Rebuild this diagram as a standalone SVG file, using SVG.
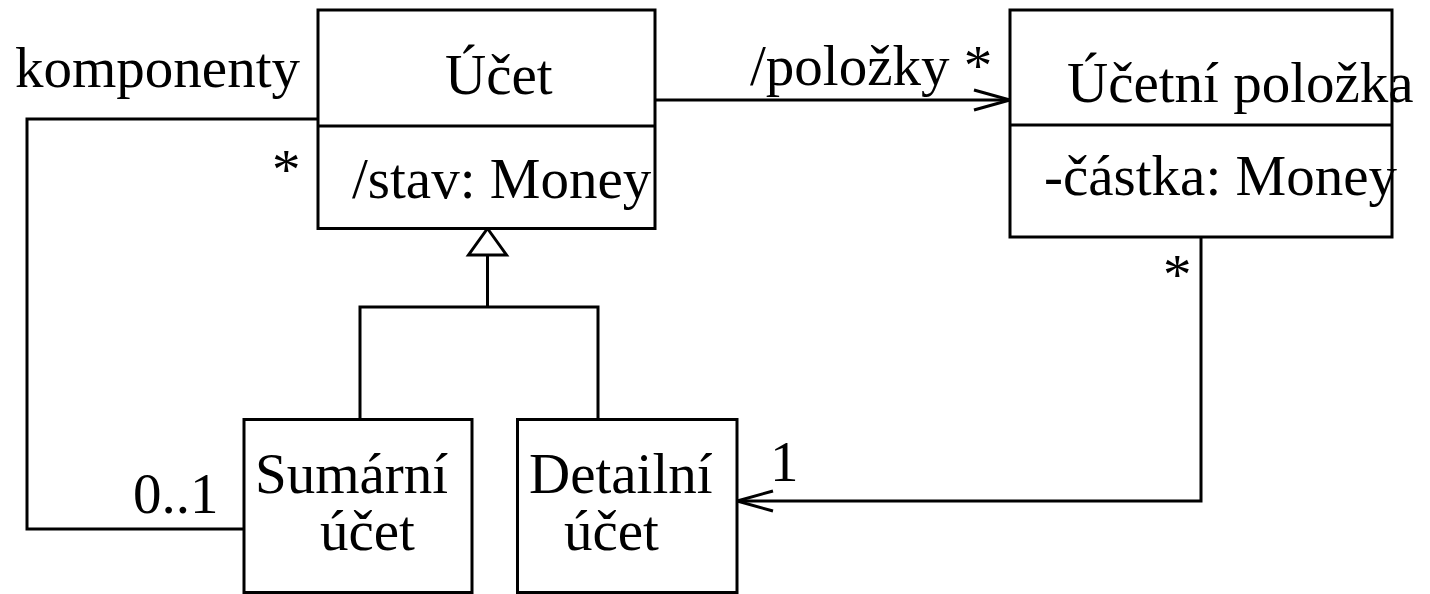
<svg xmlns="http://www.w3.org/2000/svg" width="1430" height="594" viewBox="0 0 1430 594">
  <style>
    .box { fill: #ffffff; stroke: #000000; stroke-width: 3; }
    .line { fill: none; stroke: #000000; stroke-width: 3; }
    .t { font-family: "Liberation Serif", "Times New Roman", serif; font-size: 57px; fill: #000000; }
  </style>
  <defs>
    <marker id="open" viewBox="-2 -2 40 24" refX="36" refY="10" markerWidth="40" markerHeight="24" markerUnits="userSpaceOnUse" orient="auto" overflow="visible">
      <path d="M0,0 L36,10 L0,20" fill="none" stroke="#000000" stroke-width="3"/>
    </marker>
  </defs>
  <rect width="1430" height="594" fill="#ffffff"/>

  <g id="connectors">
    <line class="line" x1="655" y1="100" x2="1010" y2="100" marker-end="url(#open)"/>
    <polyline class="line" points="318,119 27,119 27,529 244,529"/>
    <polyline class="line" points="1201,237 1201,501 737,501" marker-end="url(#open)"/>
    <line class="line" x1="487.5" y1="255" x2="487.5" y2="307"/>
    <polyline class="line" points="360,419.5 360,307 598,307 598,419.5"/>
    <polygon class="box" points="487.5,228.5 506.5,255 468.5,255"/>
    <text class="t" x="15" y="87">komponenty</text>
    <text class="t" x="272" y="189">*</text>
    <text class="t" x="750" y="85">/položky *</text>
    <text class="t" x="1163" y="294">*</text>
    <text class="t" x="770" y="481">1</text>
    <text class="t" x="133" y="513">0..1</text>
  </g>

  <g id="ucet">
    <rect class="box" x="318" y="10" width="337" height="218.5"/>
    <line class="line" x1="318" y1="126" x2="655" y2="126"/>
    <text class="t" x="445" y="94">Účet</text>
    <text class="t" x="352" y="198">/stav: Money</text>
  </g>

  <g id="ucetni-polozka">
    <rect class="box" x="1010" y="10" width="382" height="227"/>
    <line class="line" x1="1010" y1="125" x2="1392" y2="125"/>
    <text class="t" x="1067" y="102">Účetní položka</text>
    <text class="t" x="1044" y="195">-částka: Money</text>
  </g>

  <g id="sumarni-ucet">
    <rect class="box" x="244" y="419.5" width="228" height="173"/>
    <text class="t" x="255" y="493">Sumární</text>
    <text class="t" x="320" y="550">účet</text>
  </g>

  <g id="detailni-ucet">
    <rect class="box" x="517.5" y="419.5" width="219.5" height="173"/>
    <text class="t" x="529" y="493">Detailní</text>
    <text class="t" x="564" y="550">účet</text>
  </g>
</svg>
